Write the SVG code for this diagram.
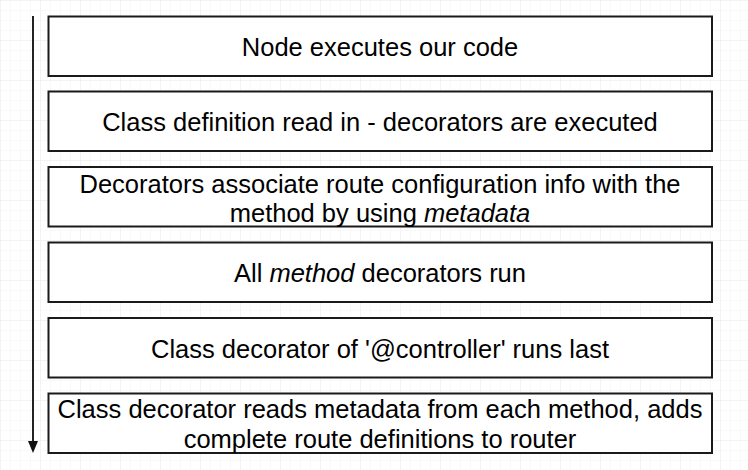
<svg xmlns="http://www.w3.org/2000/svg" width="748" height="470" viewBox="0 0 748 470">
  <defs>
    <pattern id="minor" width="10" height="10" patternUnits="userSpaceOnUse">
      <path d="M10 0 L0 0 0 10" fill="none" stroke="#f4f4f4" stroke-width="1"/>
    </pattern>
    <pattern id="major" width="40" height="40" patternUnits="userSpaceOnUse">
      <rect width="40" height="40" fill="url(#minor)"/>
      <path d="M40 0 L0 0 0 40" fill="none" stroke="#ebebeb" stroke-width="1"/>
    </pattern>
    <marker id="arrow" viewBox="0 0 10 11" refX="5" refY="11" markerWidth="10" markerHeight="11" markerUnits="userSpaceOnUse" orient="auto-start-reverse">
      <path d="M0 0 L10 0 L5 11 Z" fill="#111"/>
    </marker>
  </defs>
  <style>
    .box { fill: #ffffff; stroke: #1a1a1a; stroke-width: 2; }
    .lbl { font-family: "Liberation Sans", Arial, Helvetica, sans-serif; font-size: 25.5px; fill: #000; text-anchor: middle; }
    .it { font-style: italic; }
    .conn { stroke: #222; stroke-width: 2; fill: none; }
  </style>
  <rect width="748" height="470" fill="#ffffff"/>
  <rect width="748" height="470" fill="url(#major)"/>

  <g id="connectors">
    <line class="conn" x1="33" y1="16" x2="33" y2="442"/>
    <path d="M28 441 L38 441 L33 453 Z" fill="#111"/>
  </g>

  <g id="node1">
    <rect class="box" x="48.5" y="16.5" width="663.5" height="59.5"/>
    <text class="lbl" x="380" y="55.5">Node executes our code</text>
  </g>
  <g id="node2">
    <rect class="box" x="48.5" y="91.5" width="663.5" height="59.5"/>
    <text class="lbl" x="380" y="131">Class definition read in - decorators are executed</text>
  </g>
  <g id="node3">
    <rect class="box" x="48.5" y="167" width="663.5" height="59.5"/>
    <text class="lbl" x="380" y="192.5">Decorators associate route configuration info with the</text>
    <text class="lbl" x="380" y="222">method by using <tspan class="it">metadata</tspan></text>
  </g>
  <g id="node4">
    <rect class="box" x="48.5" y="242.5" width="663.5" height="59.5"/>
    <text class="lbl" x="380" y="281.5">All <tspan class="it">method</tspan> decorators run</text>
  </g>
  <g id="node5">
    <rect class="box" x="48.5" y="318" width="663.5" height="59.5"/>
    <text class="lbl" x="380" y="357.5">Class decorator of '@controller' runs last</text>
  </g>
  <g id="node6">
    <rect class="box" x="48.5" y="393.5" width="663.5" height="59.5"/>
    <text class="lbl" x="380" y="418">Class decorator reads metadata from each method, adds</text>
    <text class="lbl" x="380" y="447.5">complete route definitions to router</text>
  </g>
</svg>
